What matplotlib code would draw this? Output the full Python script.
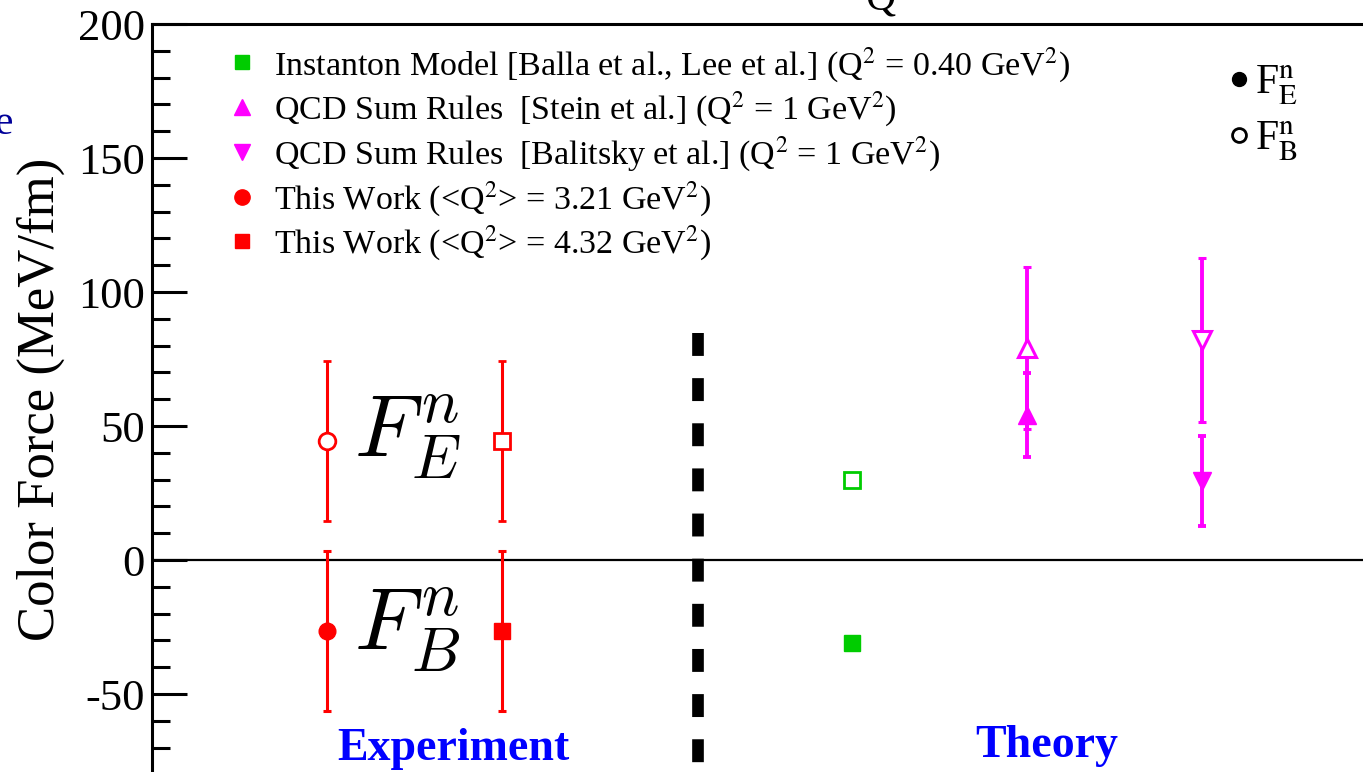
import matplotlib
matplotlib.use("Agg")
import matplotlib.pyplot as plt
from matplotlib.lines import Line2D
from matplotlib.ticker import MultipleLocator

plt.rcParams['font.family'] = ['Liberation Serif', 'DejaVu Serif']
plt.rcParams['mathtext.fontset'] = 'stix'
plt.rcParams['lines.scale_dashes'] = False
plt.rcParams['axes.unicode_minus'] = False

# ---------------- data ----------------
# Experiment (this work)
exp_x = [1, 2]
exp_FE = [44.5, 44.5]
exp_FE_err = [29.8, 29.8]
exp_FB = [-26.5, -26.5]
exp_FB_err = [29.7, 29.7]

# Instanton model
inst_x = 4
inst_FE = 30.0
inst_FB = -31.0

# QCD sum rules (Stein et al.)
stein_x = 5
stein_FE, stein_FE_err = 79.0, 30.3
stein_FB, stein_FB_err = 54.0, 15.6

# QCD sum rules (Balitsky et al.)
bal_x = 6
bal_FE, bal_FE_err = 82.0, 30.6
bal_FB, bal_FB_err = 29.5, 16.7

divider_x = 3.12
divider_top = 84.7

legend_labels = [
    r"Instanton Model [Balla et al., Lee et al.] (Q$^2$ = 0.40 GeV$^2$)",
    r"QCD Sum Rules  [Stein et al.] (Q$^2$ = 1 GeV$^2$)",
    r"QCD Sum Rules  [Balitsky et al.] (Q$^2$ = 1 GeV$^2$)",
    r"This Work (<Q$^2$> = 3.21 GeV$^2$)",
    r"This Work (<Q$^2$> = 4.32 GeV$^2$)",
]

RED = "#FF0000"
GREEN = "#00CC00"
MAG = "#FF00FF"

W, H = 1363, 772
fig = plt.figure(figsize=(W / 100, H / 100), dpi=100)
ax = fig.add_axes([152 / W, (772 - 774.4) / H, 7 * 175 / W, 750.4 / H])
ax.set_xlim(0, 7)
ax.set_ylim(-80, 200)

ebkw = dict(elinewidth=2.2, capsize=3.2, capthick=2.2, linestyle='none')

# experiment F_E (open) and F_B (filled)
ax.errorbar(exp_x[0], exp_FE[0], yerr=exp_FE_err[0], marker='o', ms=12,
            mfc='white', mec=RED, mew=2, color=RED, **ebkw)
ax.errorbar(exp_x[1], exp_FE[1], yerr=exp_FE_err[1], marker='s', ms=11,
            mfc='white', mec=RED, mew=2, color=RED, **ebkw)
ax.errorbar(exp_x[0], exp_FB[0], yerr=exp_FB_err[0], marker='o', ms=12,
            mfc=RED, mec=RED, color=RED, **ebkw)
ax.errorbar(exp_x[1], exp_FB[1], yerr=exp_FB_err[1], marker='s', ms=11,
            mfc=RED, mec=RED, color=RED, **ebkw)

# instanton
ax.plot([inst_x], [inst_FE], marker='s', ms=11, mfc='white', mec=GREEN, mew=2, ls='none')
ax.plot([inst_x], [inst_FB], marker='s', ms=11, mfc=GREEN, mec=GREEN, ls='none')

# QCD sum rules
ebm = dict(elinewidth=2.8, capsize=2.6, capthick=2.8, linestyle='none', color=MAG)
ax.errorbar(stein_x, stein_FE, yerr=stein_FE_err, marker='^', ms=13,
            mfc='white', mec=MAG, mew=2.2, **ebm)
ax.errorbar(stein_x, stein_FB, yerr=stein_FB_err, marker='^', ms=13,
            mfc=MAG, mec=MAG, **ebm)
ax.errorbar(bal_x, bal_FE, yerr=bal_FE_err, marker='v', ms=13,
            mfc='white', mec=MAG, mew=2.2, **ebm)
ax.errorbar(bal_x, bal_FB, yerr=bal_FB_err, marker='v', ms=13,
            mfc=MAG, mec=MAG, **ebm)

# zero line and divider
ax.axhline(0, color='black', lw=1.6, zorder=1)
ax.plot([divider_x, divider_x], [divider_top, -80], color='black', lw=8.4,
        dashes=(16.5, 16.0), solid_capstyle='butt', dash_capstyle='butt', zorder=1)

# big labels
ax.text(1.46, 38.4, r"$F^n_E$", fontsize=64, ha='center', va='baseline', math_fontfamily='cm')
ax.text(1.46, -33.5, r"$F^n_B$", fontsize=64, ha='center', va='baseline', math_fontfamily='cm')
ax.text(1.72, -74.5, "Experiment", color='#0000FF', fontsize=33, fontweight='bold',
        ha='center', va='baseline')
ax.text(5.11, -73.5, "Theory", color='#0000FF', fontsize=33, fontweight='bold',
        ha='center', va='baseline')

# axes styling
for s in ['top', 'left', 'right', 'bottom']:
    ax.spines[s].set_linewidth(2.2)
ax.yaxis.set_major_locator(MultipleLocator(50))
ax.yaxis.set_minor_locator(MultipleLocator(10))
ax.tick_params(axis='y', which='major', direction='in', length=25, width=2.2,
               labelsize=32, pad=5)
ax.tick_params(axis='y', which='minor', direction='in', length=13, width=2.2)
ax.tick_params(axis='x', which='both', bottom=False, top=False, labelbottom=False)
ax.set_ylabel("Color Force (MeV/fm)", fontsize=38, labelpad=9)

# legends
handles = [
    Line2D([], [], marker='s', ls='none', color=GREEN, ms=10),
    Line2D([], [], marker='^', ls='none', color=MAG, ms=11),
    Line2D([], [], marker='v', ls='none', color=MAG, ms=11),
    Line2D([], [], marker='o', ls='none', color=RED, ms=11),
    Line2D([], [], marker='s', ls='none', color=RED, ms=10),
]
leg = ax.legend(handles, legend_labels, loc='upper left',
                bbox_to_anchor=(228 / W, (772 - 45) / H), bbox_transform=fig.transFigure,
                frameon=False, fontsize=24.5, handlelength=0.8, handletextpad=0.55,
                labelspacing=0.18, borderaxespad=0, borderpad=0)
ax.add_artist(leg)

h2 = [Line2D([], [], marker='o', ls='none', mfc='black', mec='black', ms=10),
      Line2D([], [], marker='o', ls='none', mfc='white', mec='black', mew=2, ms=10)]
leg2 = ax.legend(h2, [r"F$^{\rm n}_{\rm E}$", r"F$^{\rm n}_{\rm B}$"], loc='upper left',
                 bbox_to_anchor=(1232 / W, (772 - 63) / H), bbox_transform=fig.transFigure,
                 frameon=False, fontsize=30, handlelength=0.35, handletextpad=0.2,
                 labelspacing=0.3, borderaxespad=0, borderpad=0)

# clipped fragments from the original page
fig.text(880 / W, 1 - 10 / H, "Q", fontsize=30, ha='center', va='baseline')
fig.text(-6 / W, 1 - 134 / H, "e", fontsize=30, color='#000099', ha='left', va='baseline')

fig.savefig("out.png", dpi=100)
